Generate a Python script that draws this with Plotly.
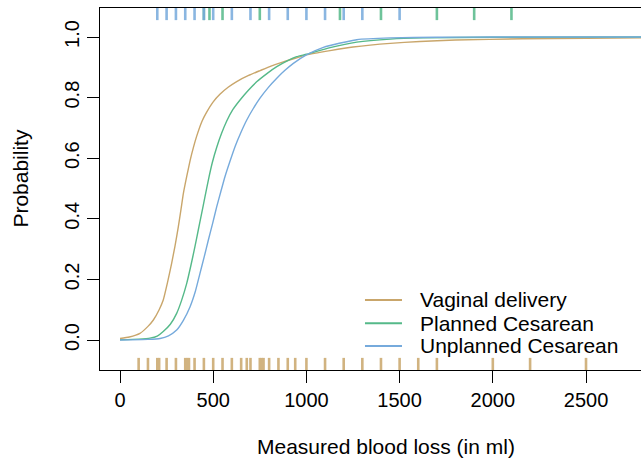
import plotly.graph_objects as go

# ---- data ----
series_names = ["Vaginal delivery", "Planned Cesarean", "Unplanned Cesarean"]
series_colors = ["#C9A66B", "#55B989", "#76AADC"]

vag_x = [0, 50, 107, 150, 179, 210, 232, 255, 277, 295, 313, 327, 340, 358, 376, 395, 411, 440, 465, 500,
         536, 580, 626, 690, 751, 810, 876, 940, 1000, 1127, 1250, 1450, 1800, 2160, 2500, 2800]
vag_p = [0.005, 0.010, 0.022, 0.045, 0.066, 0.10, 0.132, 0.19, 0.253, 0.31, 0.374, 0.43, 0.484, 0.54, 0.592,
         0.638, 0.672, 0.722, 0.752, 0.786, 0.811, 0.834, 0.853, 0.873, 0.889, 0.904, 0.918, 0.930, 0.941,
         0.955, 0.967, 0.979, 0.990, 0.994, 0.996, 0.997]

pla_x = [0, 100, 161, 200, 232, 270, 304, 330, 358, 380, 402, 420, 438, 456, 474, 495, 519, 545, 572, 605,
         644, 690, 733, 790, 841, 900, 948, 1000, 1127, 1270, 1450, 1628, 2000, 2800]
pla_p = [0.001, 0.003, 0.006, 0.013, 0.028, 0.052, 0.088, 0.13, 0.187, 0.245, 0.308, 0.363, 0.418, 0.473,
         0.528, 0.585, 0.636, 0.682, 0.722, 0.760, 0.792, 0.825, 0.852, 0.880, 0.902, 0.922, 0.935, 0.943,
         0.965, 0.983, 0.993, 0.997, 0.999, 1.0]

unp_x = [0, 150, 215, 260, 304, 340, 376, 404, 429, 452, 474, 497, 519, 541, 563, 590, 617, 648, 680, 715,
         751, 795, 841, 885, 930, 1000, 1091, 1127, 1270, 1450, 1700, 2000, 2800]
unp_p = [0.000, 0.002, 0.005, 0.014, 0.033, 0.065, 0.11, 0.16, 0.22, 0.275, 0.33, 0.385, 0.44, 0.49, 0.539,
         0.59, 0.638, 0.684, 0.726, 0.764, 0.798, 0.833, 0.864, 0.89, 0.913, 0.941, 0.966, 0.972, 0.991,
         0.997, 0.999, 1.0, 1.0]

rug_bottom_vaginal = [100, 150, 200, 210, 250, 300, 350, 360, 370, 400, 450, 500, 550, 600, 650, 680, 700,
                      750, 760, 770, 800, 850, 900, 940, 1000, 1100, 1200, 1300, 1400, 1500, 1600, 1700,
                      2000, 2200, 2500]
rug_top_planned = [450, 480, 550, 750, 1180, 1400, 1700, 1900, 2100]
rug_top_unplanned = [200, 250, 300, 350, 400, 450, 500, 600, 700, 800, 900, 1000, 1100, 1200, 1300, 1500]

x_ticks = [0, 500, 1000, 1500, 2000, 2500]
y_ticks = [0.0, 0.2, 0.4, 0.6, 0.8, 1.0]
y_tick_labels = ["0.0", "0.2", "0.4", "0.6", "0.8", "1.0"]
x_title = "Measured blood loss (in ml)"
y_title = "Probability"

# ---- style / layout ----
X_RANGE = [-107.3, 2795]
Y_RANGE = [-0.099, 1.0957]
RUG_LEN = 0.040
FONT = "Liberation Sans, Arial, Helvetica, sans-serif"
FS_TICK = 20
FS_TITLE = 21
FS_LEG = 21

# legend placement (paper coordinates)
LEG_X0, LEG_X1, LEG_TX = 0.4898, 0.5582, 0.5878
LEG_Y = [0.1934, 0.1290, 0.0663]


def rug(xs, y0, y1):
    rx, ry = [], []
    for v in xs:
        rx += [v, v, None]
        ry += [y0, y1, None]
    return rx, ry


fig = go.Figure()

curves = [(vag_x, vag_p), (pla_x, pla_p), (unp_x, unp_p)]
for (cx, cy), name, col in zip(curves, series_names, series_colors):
    fig.add_trace(go.Scatter(x=cx, y=cy, mode="lines", name=name, showlegend=False,
                             line=dict(color=col, width=1.4, shape="spline", smoothing=0.5)))

rx, ry = rug(rug_bottom_vaginal, Y_RANGE[0], Y_RANGE[0] + RUG_LEN)
fig.add_trace(go.Scatter(x=rx, y=ry, mode="lines", showlegend=False, opacity=0.85,
                         line=dict(color=series_colors[0], width=2.6)))
rx, ry = rug(rug_top_planned, Y_RANGE[1], Y_RANGE[1] - RUG_LEN)
fig.add_trace(go.Scatter(x=rx, y=ry, mode="lines", showlegend=False, opacity=0.85,
                         line=dict(color=series_colors[1], width=2.6)))
rx, ry = rug(rug_top_unplanned, Y_RANGE[1], Y_RANGE[1] - RUG_LEN)
fig.add_trace(go.Scatter(x=rx, y=ry, mode="lines", showlegend=False, opacity=0.85,
                         line=dict(color=series_colors[2], width=2.6)))

shapes = []
annotations = [
    dict(text=x_title, xref="paper", yref="paper", x=0.5287, y=-0.2127, xanchor="center",
         yanchor="middle", showarrow=False, font=dict(size=FS_TITLE)),
    dict(text=y_title, xref="paper", yref="paper", x=-0.147, y=0.530, xanchor="center",
         yanchor="middle", showarrow=False, textangle=-90, font=dict(size=FS_TITLE)),
]
for name, col, ly in zip(series_names, series_colors, LEG_Y):
    shapes.append(dict(type="line", xref="paper", yref="paper", x0=LEG_X0, x1=LEG_X1, y0=ly, y1=ly,
                       line=dict(color=col, width=2)))
    annotations.append(dict(text=name, xref="paper", yref="paper", x=LEG_TX, y=ly, xanchor="left",
                            yanchor="middle", showarrow=False, font=dict(size=FS_LEG)))

fig.update_layout(
    width=641, height=462,
    margin=dict(l=100, r=0, t=8, b=92),
    paper_bgcolor="white", plot_bgcolor="white",
    font=dict(family=FONT, size=FS_TICK, color="black"),
    showlegend=False,
    xaxis=dict(range=X_RANGE, tickvals=x_ticks, ticks="outside", ticklen=12, tickwidth=1,
               tickcolor="black", showline=True, linecolor="black", linewidth=1, mirror=True,
               showgrid=False, zeroline=False, tickfont=dict(size=FS_TICK)),
    yaxis=dict(range=Y_RANGE, tickvals=y_ticks, ticktext=y_tick_labels, ticks="outside", ticklen=12,
               tickwidth=1, tickcolor="black", showline=True, linecolor="black", linewidth=1,
               mirror=False, showgrid=False, zeroline=False, tickangle=-90, tickfont=dict(size=FS_TICK)),
    shapes=shapes,
    annotations=annotations,
)

fig.write_html("out.html")
